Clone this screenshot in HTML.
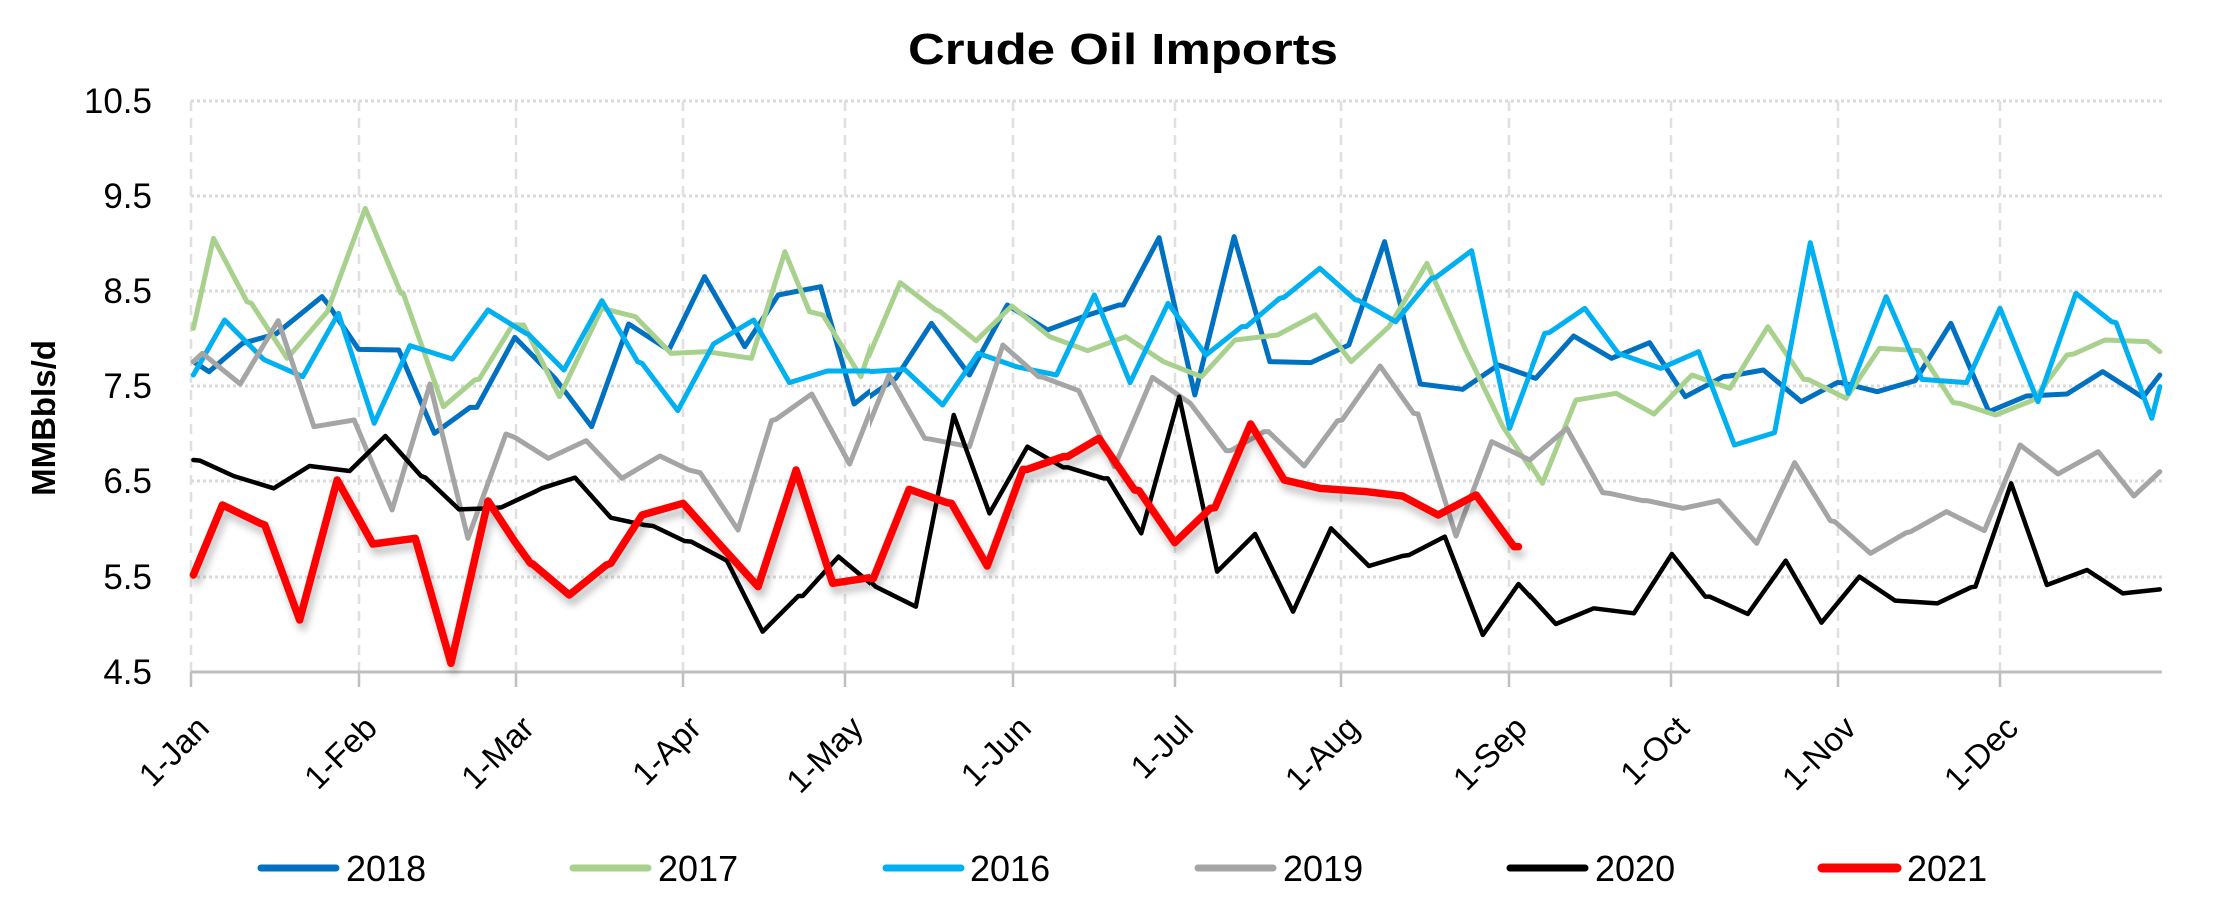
<!DOCTYPE html>
<html><head><meta charset="utf-8"><style>html,body{margin:0;padding:0;background:#fff}svg{display:block}</style></head>
<body>
<svg width="2224" height="900" viewBox="0 0 2224 900" xmlns="http://www.w3.org/2000/svg" font-family="'Liberation Sans', sans-serif">
<defs>
<clipPath id="c3"><rect x="180" y="80" width="690" height="600"/></clipPath>
<clipPath id="c4"><rect x="870" y="80" width="660" height="600"/></clipPath>
<clipPath id="c5"><rect x="1530" y="80" width="640" height="600"/></clipPath>
<filter id="sh" x="-5%" y="-10%" width="110%" height="130%"><feGaussianBlur in="SourceAlpha" stdDeviation="4"/><feOffset dx="3" dy="7" result="b"/><feComponentTransfer><feFuncA type="linear" slope="0.25"/></feComponentTransfer><feMerge><feMergeNode/><feMergeNode in="SourceGraphic"/></feMerge></filter>
</defs>
<text x="1123" y="64" text-anchor="middle" font-size="44" font-weight="bold" textLength="430" lengthAdjust="spacingAndGlyphs">Crude Oil Imports</text>
<!-- grid -->
<g stroke="#d9d9d9" stroke-width="3" stroke-dasharray="3,3">
<line x1="191" y1="101" x2="2162" y2="101"/><line x1="191" y1="196" x2="2162" y2="196"/><line x1="191" y1="291" x2="2162" y2="291"/><line x1="191" y1="386" x2="2162" y2="386"/><line x1="191" y1="481" x2="2162" y2="481"/><line x1="191" y1="577" x2="2162" y2="577"/>
</g>
<g stroke="#e0e0e0" stroke-width="2.5" stroke-dasharray="10,7">
<line x1="191" y1="101" x2="191" y2="672"/><line x1="359" y1="101" x2="359" y2="672"/><line x1="516" y1="101" x2="516" y2="672"/><line x1="683" y1="101" x2="683" y2="672"/><line x1="845" y1="101" x2="845" y2="672"/><line x1="1013" y1="101" x2="1013" y2="672"/><line x1="1175" y1="101" x2="1175" y2="672"/><line x1="1341" y1="101" x2="1341" y2="672"/><line x1="1509" y1="101" x2="1509" y2="672"/><line x1="1671" y1="101" x2="1671" y2="672"/><line x1="1838" y1="101" x2="1838" y2="672"/><line x1="2000" y1="101" x2="2000" y2="672"/>
</g>
<line x1="191" y1="672" x2="2162" y2="672" stroke="#bfbfbf" stroke-width="3"/>
<g stroke="#bfbfbf" stroke-width="2.5">
<line x1="191" y1="672" x2="191" y2="687"/><line x1="359" y1="672" x2="359" y2="687"/><line x1="516" y1="672" x2="516" y2="687"/><line x1="683" y1="672" x2="683" y2="687"/><line x1="845" y1="672" x2="845" y2="687"/><line x1="1013" y1="672" x2="1013" y2="687"/><line x1="1175" y1="672" x2="1175" y2="687"/><line x1="1341" y1="672" x2="1341" y2="687"/><line x1="1509" y1="672" x2="1509" y2="687"/><line x1="1671" y1="672" x2="1671" y2="687"/><line x1="1838" y1="672" x2="1838" y2="687"/><line x1="2000" y1="672" x2="2000" y2="687"/>
</g>
<!-- y labels -->
<g font-size="35" text-anchor="end">
<text x="152" y="113">10.5</text><text x="152" y="208">9.5</text><text x="152" y="303">8.5</text><text x="152" y="398">7.5</text><text x="152" y="493">6.5</text><text x="152" y="589">5.5</text><text x="152" y="684">4.5</text>
</g>
<text transform="translate(55,418) rotate(-90)" text-anchor="middle" font-size="33" font-weight="bold">MMBbls/d</text>
<!-- x labels -->
<g font-size="33" text-anchor="end">
<text transform="translate(211,730) rotate(-45)">1-Jan</text>
<text transform="translate(379,730) rotate(-45)">1-Feb</text>
<text transform="translate(536,730) rotate(-45)">1-Mar</text>
<text transform="translate(703,730) rotate(-45)">1-Apr</text>
<text transform="translate(865,730) rotate(-45)">1-May</text>
<text transform="translate(1033,730) rotate(-45)">1-Jun</text>
<text transform="translate(1195,730) rotate(-45)">1-Jul</text>
<text transform="translate(1361,730) rotate(-45)">1-Aug</text>
<text transform="translate(1529,730) rotate(-45)">1-Sep</text>
<text transform="translate(1691,730) rotate(-45)">1-Oct</text>
<text transform="translate(1858,730) rotate(-45)">1-Nov</text>
<text transform="translate(2020,730) rotate(-45)">1-Dec</text>
</g>
<!-- series -->
<g fill="none" stroke-linejoin="round" stroke-linecap="round">
<g clip-path="url(#c3)"><g transform="translate(180,180) scale(0.44643,0.33333)">
<polyline vector-effect="non-scaling-stroke" stroke="#0070C0" stroke-width="5" points="30,545 65,575 100,535 140,490 215,462 318,350 330,370 400,508 490,510 570,760 650,682 665,682 750,472 840,595 922,740 1005,432 1095,510 1175,290 1265,500 1340,345 1435,320 1510,672 1568,610"/>
<polyline vector-effect="non-scaling-stroke" stroke="#A9D18E" stroke-width="5" points="30,445 75,175 150,365 160,370 240,535 330,395 415,85 495,340 500,340 590,680 660,600 670,598 745,435 770,435 850,650 945,385 1020,410 1100,520 1180,515 1280,535 1355,215 1410,395 1440,405 1525,590 1568,420"/>
<polyline vector-effect="non-scaling-stroke" stroke="#00B0F0" stroke-width="5" points="30,585 100,420 185,535 190,540 275,590 355,400 435,730 515,497 610,537 690,390 775,460 780,462 860,570 945,362 1025,545 1035,550 1115,692 1195,492 1285,420 1365,608 1450,573 1568,573"/>
<polyline vector-effect="non-scaling-stroke" stroke="#A5A5A5" stroke-width="5" points="30,545 50,520 135,612 220,422 300,740 390,720 475,990 560,612 645,1075 730,762 750,772 825,835 910,782 990,895 1075,828 1140,870 1165,878 1250,1050 1325,722 1335,718 1415,642 1500,852 1568,620"/>
<polyline vector-effect="non-scaling-stroke" stroke="#000" stroke-width="4.5" points="30,840 45,842 120,888 210,925 290,858 380,873 460,768 540,888 550,893 625,988 690,985 720,982 800,932 810,925 885,893 965,1013 1040,1035 1060,1038 1130,1083 1145,1085 1225,1142 1305,1355 1385,1248 1395,1248 1475,1130 1560,1225 1600,1260"/>
</g></g>
<g clip-path="url(#c4)"><g transform="translate(860,180) scale(0.44643,0.33333)">
<polyline vector-effect="non-scaling-stroke" stroke="#0070C0" stroke-width="5" points="0,670 80,595 160,430 245,585 330,375 420,450 500,410 580,375 590,375 670,173 750,645 838,170 918,545 1010,548 1095,495 1175,185 1255,612 1350,628 1430,555 1515,595 1568,505"/>
<polyline vector-effect="non-scaling-stroke" stroke="#A9D18E" stroke-width="5" points="0,590 90,308 170,390 180,395 260,482 340,378 425,470 510,512 595,470 680,545 765,590 840,480 935,465 1020,405 1100,545 1185,440 1270,250 1355,505 1440,740 1525,912 1568,800"/>
<polyline vector-effect="non-scaling-stroke" stroke="#00B0F0" stroke-width="5" points="0,577 100,568 185,675 265,520 350,560 440,585 525,345 605,608 690,370 775,525 855,440 865,440 940,355 950,352 1030,265 1110,360 1115,360 1200,425 1280,295 1290,292 1370,212 1455,745 1535,458 1568,430"/>
<polyline vector-effect="non-scaling-stroke" stroke="#A5A5A5" stroke-width="5" points="0,800 65,585 145,775 160,778 245,800 320,495 400,590 410,592 490,632 570,860 655,592 740,670 820,812 830,812 905,755 915,755 995,858 1070,722 1080,720 1165,558 1240,700 1250,702 1335,1068 1415,785 1500,840 1568,760"/>
<polyline vector-effect="non-scaling-stroke" stroke="#000" stroke-width="4.5" points="-30,1150 0,1175 35,1220 125,1280 210,705 290,1000 375,800 455,862 465,862 545,895 555,895 630,1060 715,650 800,1175 885,1062 970,1295 1055,1045 1140,1158 1215,1128 1230,1125 1310,1070 1395,1365 1475,1212 1560,1335"/>
</g></g>
<g clip-path="url(#c5)"><g transform="translate(1500,180) scale(0.44643,0.33333)">
<polyline vector-effect="non-scaling-stroke" stroke="#0070C0" stroke-width="5" points="0,560 80,595 165,468 250,535 335,488 415,650 500,590 515,588 590,570 675,665 755,608 765,608 845,635 930,602 1010,430 1095,695 1180,648 1270,642 1350,575 1440,652 1478,585"/>
<polyline vector-effect="non-scaling-stroke" stroke="#A9D18E" stroke-width="5" points="0,720 20,750 95,910 170,660 180,658 260,640 345,702 430,585 515,625 600,440 680,598 690,598 775,655 850,505 940,512 1015,668 1030,670 1110,705 1195,660 1270,525 1285,522 1355,480 1450,485 1478,515"/>
<polyline vector-effect="non-scaling-stroke" stroke="#00B0F0" stroke-width="5" points="0,610 20,745 100,460 110,458 190,385 265,520 360,565 445,515 525,795 610,760 615,758 695,188 780,640 865,350 945,598 1045,608 1120,385 1205,665 1290,340 1370,425 1380,428 1460,715 1478,620"/>
<polyline vector-effect="non-scaling-stroke" stroke="#A5A5A5" stroke-width="5" points="0,795 65,842 150,745 230,938 245,940 320,962 330,962 410,985 490,962 575,1090 660,848 740,1022 750,1025 830,1120 910,1058 920,1055 1000,995 1085,1052 1165,795 1250,882 1340,815 1420,948 1478,875"/>
<polyline vector-effect="non-scaling-stroke" stroke="#000" stroke-width="4.5" points="0,1300 45,1215 125,1332 210,1285 300,1300 385,1122 460,1250 470,1250 555,1302 640,1142 720,1328 805,1190 885,1262 980,1270 1055,1222 1065,1220 1145,910 1225,1215 1315,1170 1395,1240 1478,1228"/>
</g></g>
<g filter="url(#sh)">
<g clip-path="url(#c3)"><g transform="translate(180,180) scale(0.44643,0.33333)">
<polyline vector-effect="non-scaling-stroke" stroke="#FF0000" stroke-width="7.5" points="30,1185 95,975 180,1030 190,1035 268,1320 352,900 432,1092 527,1075 607,1450 690,963 750,1085 785,1150 790,1152 872,1245 955,1155 965,1150 1035,1005 1127,970 1210,1095 1295,1220 1380,870 1462,1210 1560,1190 1600,1100"/>
</g></g>
<g clip-path="url(#c4)"><g transform="translate(860,180) scale(0.44643,0.33333)">
<polyline vector-effect="non-scaling-stroke" stroke="#FF0000" stroke-width="7.5" points="-40,1205 0,1200 30,1195 110,928 195,968 205,970 285,1158 365,868 375,868 455,830 465,830 535,775 615,930 625,932 705,1088 785,985 795,983 875,732 950,900 1030,925 1135,935 1215,948 1295,1005 1380,945 1465,1100 1475,1100"/>
</g></g>
</g>
</g>
<!-- legend -->
<g stroke-linecap="round">
<line x1="261" y1="868" x2="336" y2="868" stroke="#0070C0" stroke-width="7"/>
<line x1="573" y1="868" x2="648" y2="868" stroke="#A9D18E" stroke-width="7"/>
<line x1="886" y1="868" x2="961" y2="868" stroke="#00B0F0" stroke-width="7"/>
<line x1="1198" y1="868" x2="1273" y2="868" stroke="#A5A5A5" stroke-width="7"/>
<line x1="1510" y1="868" x2="1585" y2="868" stroke="#000" stroke-width="7"/>
<line x1="1822" y1="868" x2="1897" y2="868" stroke="#FF0000" stroke-width="9"/>
</g>
<g font-size="36">
<text x="346" y="881">2018</text><text x="658" y="881">2017</text><text x="970" y="881">2016</text><text x="1283" y="881">2019</text><text x="1595" y="881">2020</text><text x="1907" y="881">2021</text>
</g>
</svg>
</body></html>
